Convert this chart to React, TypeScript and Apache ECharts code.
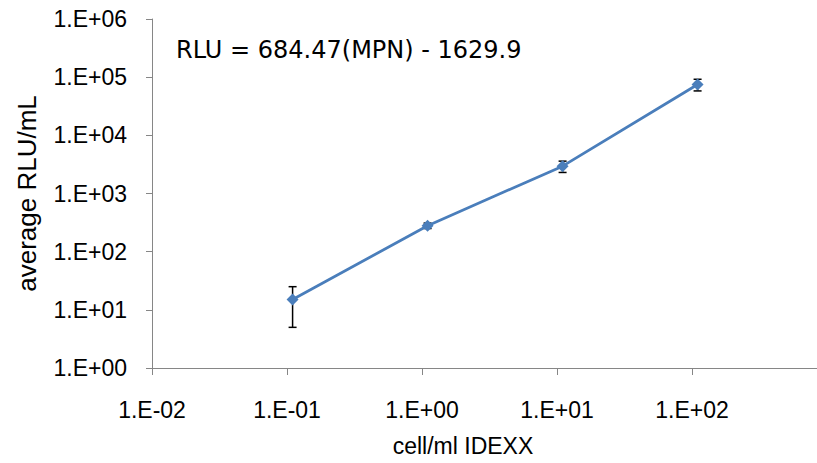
import React, { useEffect, useRef } from "react";
import * as echarts from "echarts";

const mpn = [0.11, 1.1, 11, 110];
const rlu = [15, 280, 2950, 75000];
const rluErr = [10, 30, 650, 17000];
const xTickLabels = ["1.E-02", "1.E-01", "1.E+00", "1.E+01", "1.E+02", ""];
const yTickLabels = ["1.E+00", "1.E+01", "1.E+02", "1.E+03", "1.E+04", "1.E+05", "1.E+06"];
const equation = "RLU = 684.47(MPN) - 1629.9";
const xTitle = "cell/ml IDEXX";
const yTitle = "average RLU/mL";

const FONT = "'Liberation Sans', Arial, sans-serif";
const EQ_FONT = "'DejaVu Sans', sans-serif";

export default function App() {
  const ref = useRef<HTMLDivElement>(null);
  useEffect(() => {
    if (!ref.current) return;
    const chart = echarts.init(ref.current, undefined, { renderer: "svg" });
    const errData = mpn.map((x, i) => [x, rlu[i] - rluErr[i], rlu[i] + rluErr[i]]);
    chart.setOption({
      animation: false,
      backgroundColor: "#ffffff",
      textStyle: { fontFamily: FONT },
      grid: { left: 152, right: 5, top: 19, bottom: 95, containLabel: false },
      xAxis: {
        type: "log",
        logBase: 10,
        min: 0.01,
        max: 1000,
        axisLine: { show: true, lineStyle: { color: "#868686", width: 1 } },
        axisTick: { show: true, length: 7, lineStyle: { color: "#868686" } },
        splitLine: { show: false },
        minorTick: { show: false },
        axisLabel: {
          margin: 30,
          fontSize: 23,
          color: "#000",
          fontFamily: FONT,
          formatter: (v: number) => {
            const idx = Math.round(Math.log10(v)) + 2;
            return xTickLabels[idx] ?? "";
          },
        },
      },
      yAxis: {
        type: "log",
        logBase: 10,
        min: 1,
        max: 1000000,
        name: yTitle,
        nameLocation: "middle",
        nameGap: 112,
        nameTextStyle: { fontSize: 26, color: "#000", fontFamily: FONT },
        axisLine: { show: true, lineStyle: { color: "#868686", width: 1 } },
        axisTick: { show: true, length: 6, lineStyle: { color: "#868686" } },
        splitLine: { show: false },
        axisLabel: {
          margin: 25,
          fontSize: 23,
          color: "#000",
          fontFamily: FONT,
          formatter: (v: number) => {
            const idx = Math.round(Math.log10(v));
            return yTickLabels[idx] ?? "";
          },
        },
      },
      graphic: [
        {
          type: "text",
          x: 176,
          y: 50,
          style: {
            text: equation,
            font: `24px ${EQ_FONT}`,
            fill: "#000",
            textVerticalAlign: "middle",
          },
        },
        {
          type: "text",
          x: 463,
          y: 446,
          style: {
            text: xTitle,
            font: `23px ${FONT}`,
            fill: "#000",
            textAlign: "center",
            textVerticalAlign: "middle",
          },
        },
      ],
      series: [
        {
          type: "custom",
          data: errData,
          z: 2,
          renderItem: (params: any, api: any) => {
            const x = api.value(0);
            const lo = api.coord([x, api.value(1)]);
            const hi = api.coord([x, api.value(2)]);
            const hw = 4;
            const style = { stroke: "#000", lineWidth: 1.5 };
            return {
              type: "group",
              children: [
                { type: "line", shape: { x1: lo[0], y1: lo[1], x2: hi[0], y2: hi[1] }, style },
                { type: "line", shape: { x1: lo[0] - hw, y1: lo[1], x2: lo[0] + hw, y2: lo[1] }, style },
                { type: "line", shape: { x1: hi[0] - hw, y1: hi[1], x2: hi[0] + hw, y2: hi[1] }, style },
              ],
            };
          },
        },
        {
          type: "line",
          data: mpn.map((x, i) => [x, rlu[i]]),
          lineStyle: { color: "#4A7EBB", width: 2.8 },
          itemStyle: { color: "#4A7EBB" },
          symbol: "diamond",
          symbolSize: 12,
          z: 3,
        },
      ],
    });
    return () => chart.dispose();
  }, []);
  return (
    <div
      ref={ref}
      style={{ position: "fixed", left: 0, top: 0, width: 832, height: 463, background: "#fff" }}
    />
  );
}
